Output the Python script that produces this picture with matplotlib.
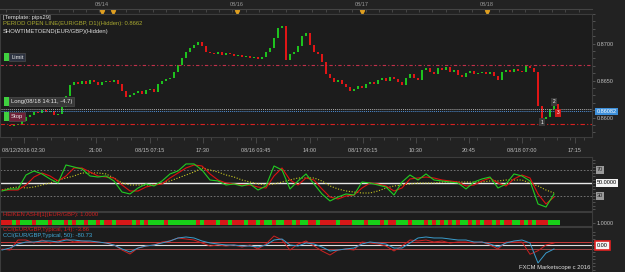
import matplotlib.pyplot as plt
import numpy as np

plt.rcParams['font.family'] = ['Liberation Sans', 'DejaVu Sans']

# EUR/GBP closes, one candle per hour
closes = [0.85895, 0.85895, 0.85882, 0.85895, 0.85908, 0.85947, 0.86013, 0.86039, 0.86079, 0.86066,
          0.86105, 0.86079, 0.86092, 0.86039, 0.86053, 0.86145, 0.86289, 0.86434, 0.86487, 0.86460,
          0.86500, 0.86447, 0.86513, 0.86474, 0.86434, 0.86487, 0.86500, 0.86487, 0.86513, 0.86447,
          0.86355, 0.86276, 0.86303, 0.86329, 0.86355, 0.86316, 0.86368, 0.86381, 0.86342, 0.86460,
          0.86500, 0.86526, 0.86539, 0.86618, 0.86710, 0.86803, 0.86882, 0.86934, 0.86987, 0.87026,
          0.86961, 0.86882, 0.86868, 0.86855, 0.86882, 0.86842, 0.86868, 0.86855, 0.86829, 0.86842,
          0.86816, 0.86829, 0.86803, 0.86816, 0.86789, 0.86816, 0.86882, 0.86934, 0.87079, 0.87211,
          0.87237, 0.86776, 0.86855, 0.86882, 0.86961, 0.87105, 0.87145, 0.86987, 0.86882, 0.86855,
          0.86750, 0.86592, 0.86539, 0.86487, 0.86513, 0.86460, 0.86408, 0.86355, 0.86381, 0.86421,
          0.86395, 0.86460, 0.86487, 0.86447, 0.86513, 0.86539, 0.86500, 0.86553, 0.86526, 0.86487,
          0.86434, 0.86539, 0.86592, 0.86539, 0.86513, 0.86645, 0.86671, 0.86618, 0.86592, 0.86671,
          0.86645, 0.86684, 0.86618, 0.86645, 0.86579, 0.86553, 0.86605, 0.86632, 0.86592, 0.86605,
          0.86618, 0.86592, 0.86618, 0.86566, 0.86513, 0.86618, 0.86645, 0.86618, 0.86658, 0.86632,
          0.86618, 0.86697, 0.86671, 0.86618, 0.86158, 0.85974, 0.86013, 0.86118, 0.86184, 0.86092]
first_open = 0.85900

# oscillator panel, one point every two candles
osc_fast = [37.7, 40.8, 40.8, 62.3, 68.5, 63.9, 56.2, 50.0, 77.7, 74.6,
            71.6, 60.8, 59.2, 60.8, 53.1, 36.1, 33.1, 42.3, 48.5, 45.4,
            53.1, 63.9, 68.5, 79.3, 79.3, 70.0, 54.6, 53.1, 46.9, 48.5,
            45.4, 48.5, 39.2, 45.4, 76.2, 70.0, 40.8, 53.1, 63.9, 48.5,
            33.1, 22.3, 28.4, 33.1, 31.5, 51.5, 50.0, 46.9, 43.8, 31.5,
            51.5, 62.3, 54.6, 63.9, 54.6, 53.1, 51.5, 50.0, 40.8, 51.5,
            56.2, 59.2, 42.3, 48.5, 63.9, 60.8, 53.1, 17.7, 13.0, 33.1]
osc_slow = [39.2, 39.2, 39.2, 46.9, 59.2, 65.4, 60.8, 53.1, 60.8, 73.1,
            73.1, 66.9, 60.8, 59.2, 57.7, 46.9, 37.7, 37.7, 43.8, 46.9,
            48.5, 57.7, 65.4, 73.1, 77.7, 76.2, 63.9, 54.6, 50.0, 48.5,
            46.9, 46.9, 43.8, 42.3, 60.8, 73.1, 54.6, 46.9, 57.7, 54.6,
            40.8, 28.4, 25.4, 30.0, 31.5, 42.3, 50.0, 48.5, 45.4, 37.7,
            42.3, 56.2, 57.7, 59.2, 57.7, 54.6, 53.1, 51.5, 45.4, 46.9,
            53.1, 57.7, 50.0, 45.4, 56.2, 62.3, 57.7, 33.1, 17.7, 28.4]
osc_signal = [39.2, 42.3, 43.8, 42.3, 43.8, 46.9, 50.0, 54.6, 57.7, 60.8,
              65.4, 65.4, 65.4, 63.9, 57.7, 50.0, 46.9, 46.9, 46.9, 46.9,
              50.0, 53.1, 57.7, 62.3, 66.9, 73.1, 70.0, 66.9, 62.3, 59.2,
              54.6, 51.5, 48.5, 46.9, 48.5, 51.5, 54.6, 57.7, 57.7, 57.7,
              53.1, 45.4, 40.8, 37.7, 36.1, 34.6, 34.6, 37.7, 42.3, 45.4,
              46.9, 48.5, 50.0, 50.0, 50.0, 51.5, 51.5, 51.5, 51.5, 51.5,
              51.5, 53.1, 53.1, 54.6, 54.6, 54.6, 50.0, 45.4, 39.2, 34.6]

cci_14 = [-100, -129, 157, 157, 72, 157, 72, 129, 186, 100,
          129, 100, 100, 72, 14, -129, -243, -72, -14, 14,
          100, 129, 215, 186, 157, 72, -14, 14, -14, 14,
          -43, 14, -100, 43, 272, 157, -129, 43, 129, -14,
          -157, -272, -129, -100, -129, 100, 72, 43, -14, -157,
          -14, 157, 129, 157, 100, 129, 72, 100, 100, 72,
          100, 14, -100, 100, 100, 100, -250, -150, 14, 72]
cci_50 = [-129, -72, 43, 100, 100, 129, 129, 100, 157, 157,
          129, 129, 100, 72, 14, -100, -186, -72, -14, 14,
          72, 129, 215, 243, 215, 129, 72, 43, 14, 14,
          -14, -14, -43, 14, 157, 186, 14, -14, 72, 43,
          -43, -157, -129, -100, -72, 43, 100, 72, 43, -72,
          -72, 72, 215, 243, 215, 215, 186, 157, 157, 100,
          100, 43, -43, 72, 129, 157, 72, -500, -215, -100]

# heiken ashi colour per candle
heiken = ("rrrgrgggrg" "ggrgggrgrg" "grggrgrrgr" "rrrgrgrggg" "grgggggggr"
          "grrrgrrgrr" "rgrrgrggrg" "grrgrggrrg" "rrrrgrrrgg" "grgggrgrrg"
          "ggrgggrgrg" "rgrgrggrgr" "grrgrgrrgg" "rgrgrrrggg")

time_labels = ['08/12/2016 02:30', '21:00', '08/15 07:15', '17:30', '08/16 03:45',
               '14:00', '08/17 00:15', '10:30', '20:45', '08/18 07:00', '17:15']
time_pos = [6, 24, 37.5, 50.75, 64, 77.5, 90.75, 104, 117.25, 130.5, 143.75]
day_labels = ['08/14', '08/16', '08/17', '08/18']
day_pos = [25.5, 59.25, 90.5, 121.75]
day_marks = [25.5, 28.25, 59.25, 90.5, 121.75]

limit_price = 0.86710
stop_price = 0.85908
long_price = 0.86110
bid_price = 0.86082

BG = '#1c1c1c'
FRAME = '#3c3c3c'
TXT = '#bdbdbd'


def px(x0, y0, x1, y1):
    return [x0 / 625, 1 - y1 / 272, (x1 - x0) / 625, (y1 - y0) / 272]


def style(ax):
    ax.set_facecolor(BG)
    for s in ax.spines.values():
        s.set_color(FRAME)
        s.set_linewidth(0.8)
    ax.set_xlim(0, 148)
    ax.set_xticks([])
    ax.yaxis.tick_right()
    ax.tick_params(axis='y', which='both', colors='#666666', labelcolor=TXT,
                   labelsize=4, length=2, width=0.5, pad=1.5)


fig = plt.figure(figsize=(6.25, 2.72), dpi=100, facecolor='#222222')

# top date strip
axt = fig.add_axes(px(0, 0, 592, 9))
axt.set_facecolor('#222222')
axt.set_xlim(0, 148)
axt.set_ylim(0, 1)
for k in ['top', 'left', 'right']:
    axt.spines[k].set_visible(False)
axt.spines['bottom'].set_color('#444444')
axt.set_yticks([])
axt.set_xticks(np.arange(1.5, 148, 3.33))
axt.tick_params(axis='x', colors='#555555', length=2.5, width=0.5, labelbottom=False)
for lab, p in zip(day_labels, day_pos):
    axt.text(p, 0.5, lab, ha='center', va='center', fontsize=4, color='#999999')
axt.plot(day_marks, [-0.3] * len(day_marks), 'v', color='#e0a020', ms=3, clip_on=False)

# main price panel
ax = fig.add_axes(px(0, 14, 592, 137))
style(ax)
ax.set_ylim(0.85737, 0.87355)
c = np.array(closes)
o = np.r_[first_open, c[:-1]]
x = np.arange(len(c)) + 0.5
body = c - o
up = body >= 0
h = np.where(np.abs(body) < 0.00005, np.where(up, 0.00005, -0.00005), body)
ax.bar(x, h, bottom=o, width=0.6, color=np.where(up, '#1ec21e', '#e01616'), linewidth=0)

ax.axhline(limit_price, color='#c0304a', lw=0.8, ls=(0, (3, 2, 1, 2)))
ax.axhline(stop_price, color='#d82020', lw=0.8, ls=(0, (4, 2, 1, 2)))
ax.axhline(long_price, color='#a8a8a8', lw=0.7, ls=(0, (1, 1)))
ax.axhline(bid_price, color='#4f8fd6', lw=0.7, ls=(0, (1, 1)))

ax.set_yticks([0.86, 0.865, 0.87])
ax.set_yticklabels(['0.8600', '0.8650', '0.8700'])
ax.set_yticks(np.arange(0.858, 0.874, 0.001), minor=True)
ax.set_xticks(time_pos)
ax.set_xticklabels(time_labels)
ax.set_xticks(np.arange(2.7, 148, 3.33), minor=True)
ax.tick_params(axis='x', which='both', colors='#555555', labelcolor=TXT,
               labelsize=4, length=4, width=0.5, pad=4, bottom=True)
ax.tick_params(axis='x', which='minor', length=2)

trans = ax.get_yaxis_transform()
ax.text(1.008, bid_price, '0.86082', transform=trans, fontsize=4, color='white',
        va='center', ha='left', bbox=dict(boxstyle='square,pad=0.25', fc='#3d8fd9', ec='none'))

for price, label, bg in [(limit_price, 'Limit', '#2c3240'),
                         (long_price, 'Long(08/18 14:11, -4.7)', '#383838'),
                         (stop_price, 'Stop', '#6e2038')]:
    ax.annotate(' ', xy=(0, price), xycoords=trans, xytext=(6, 8), textcoords='offset pixels',
                fontsize=4, va='center', ha='left',
                bbox=dict(boxstyle='square,pad=0.3', fc='#3fd03f', ec='none'))
    ax.annotate(label, xy=(0, price), xycoords=trans, xytext=(11, 8), textcoords='offset pixels',
                fontsize=4.2, va='center', ha='left', color='#e8e8e8',
                bbox=dict(boxstyle='square,pad=0.3', fc=bg, ec='#555555', lw=0.4))

# trade markers at the end
for i, tag, dy in [(135, '1', -0.00035), (138, '2', 0.0003), (139, '3', -0.0003)]:
    ax.text(x[i], c[i] + dy, tag, fontsize=3.5, color='white', ha='center', va='center',
            bbox=dict(boxstyle='square,pad=0.3', fc='#3a3a3a' if tag != '3' else '#d01818', ec='none'))

fig.text(3 / 625, 1 - 17 / 272, '[Template: pips29]', fontsize=4.2, color='#e0e0e0', va='center')
fig.text(3 / 625, 1 - 24 / 272, 'PERIOD OPEN LINE(EUR/GBP, D1)(Hidden): 0.8662', fontsize=4.2,
         color='#a8a830', va='center')
fig.text(3 / 625, 1 - 31 / 272, 'SHOWTIMETOEND(EUR/GBP)(Hidden)', fontsize=4.2, color='#e0e0e0',
         va='center')

# oscillator panel
axo = fig.add_axes(px(0, 157, 592, 211))
style(axo)
axo.set_ylim(6.9, 90)
xo = np.arange(len(osc_fast)) * 2 + 0.5
axo.axhline(70, color='#808080', lw=0.6, ls=(0, (2, 2)))
axo.axhline(30, color='#808080', lw=0.6, ls=(0, (2, 2)))
axo.axhline(50, color='#e8e8e8', lw=1.0)
axo.plot(xo, osc_signal, color='#c8c820', lw=0.8, ls=(0, (1, 1.5)))
axo.plot(xo, osc_slow, color='#dd1111', lw=0.8)
axo.plot(xo, osc_fast, color='#22cc22', lw=0.8)
axo.set_yticks([])
axo.set_yticks(np.arange(10, 90, 5), minor=True)
otr = axo.get_yaxis_transform()
for v, lab, fc, tc in [(70, '70', '#9a9a9a', '#202020'), (50, '50.0000', '#f4f4f4', '#000000'),
                       (30, '30', '#9a9a9a', '#202020')]:
    axo.text(1.008, v, lab, transform=otr, fontsize=4, color=tc, va='center', ha='left',
             bbox=dict(boxstyle='square,pad=0.2', fc=fc, ec='none'))

# heiken ashi strip
axh = fig.add_axes(px(0, 212, 592, 226))
style(axh)
axh.set_ylim(-0.1, 2.4)
xh = np.arange(len(heiken)) + 0.5
axh.bar(xh, [1] * len(heiken), width=1, bottom=0,
        color=['#18d018' if ch == 'g' else '#d81818' for ch in heiken], linewidth=0)
axh.set_yticks([0.5])
axh.set_yticklabels(['1.0000'])
fig.text(3 / 625, 1 - 214.5 / 272, 'HEIKEN ASHI[1](EUR/GBP): 1.0000', fontsize=4.2, color='#d02020',
         va='center')

# CCI panel
axc = fig.add_axes(px(0, 227, 592, 272))
style(axc)
axc.set_ylim(-758, 529)
xc = np.arange(len(cci_14)) * 2 + 0.5
axc.axhline(100, color='#c83a3a', lw=0.7)
axc.axhline(0, color='#e0e0e0', lw=0.8)
axc.axhline(-100, color='#a04848', lw=0.7)
axc.plot(xc, cci_14, color='#cc2222', lw=0.7)
axc.plot(xc, cci_50, color='#3a9ccc', lw=0.7)
axc.set_yticks([])
axc.set_yticks(np.arange(-700, 500, 100), minor=True)
ctr = axc.get_yaxis_transform()
axc.text(1.008, 0, '0.00', transform=ctr, fontsize=4, color='#000000', va='center', ha='left',
         bbox=dict(boxstyle='square,pad=0.35', fc='#f4f4f4', ec='#e02020', lw=1.2))
fig.text(3 / 625, 1 - 230 / 272, 'CCI(EUR/GBP,Typical, 14): -3.86', fontsize=4.2, color='#d02020',
         va='center')
fig.text(3 / 625, 1 - 236 / 272, 'CCI(EUR/GBP,Typical, 50): -80.73', fontsize=4.2, color='#40a8d8',
         va='center')
fig.text(590 / 625, 1 - 268 / 272, 'FXCM Marketscope c 2016', fontsize=4.2, color='#e0e0e0',
         va='center', ha='right')

fig.savefig('out.png', dpi=100, facecolor=fig.get_facecolor())
